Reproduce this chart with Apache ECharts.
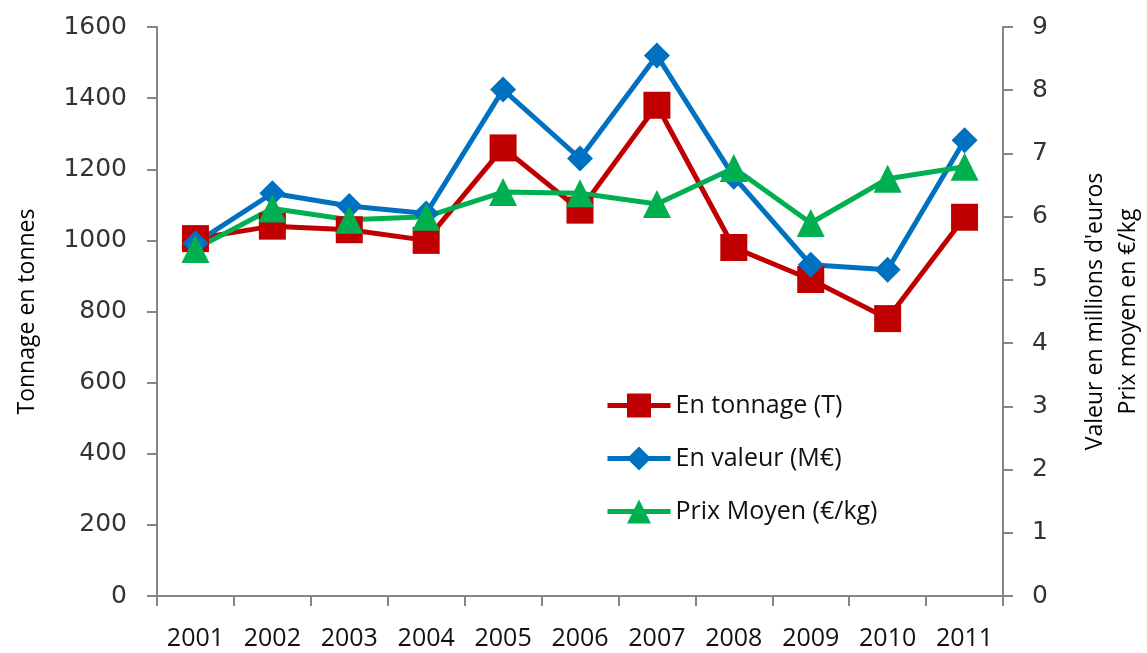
<!DOCTYPE html>
<html>
<head>
<meta charset="utf-8">
<script src="https://cdn.jsdelivr.net/npm/echarts@6/dist/echarts.min.js"></script>
<style>
  html, body { margin: 0; padding: 0; background: #fff; }
  #chart { width: 1147px; height: 653px; }
</style>
</head>
<body>
<div id="chart"></div>
<script>
const years = ['2001', '2002', '2003', '2004', '2005', '2006', '2007', '2008', '2009', '2010', '2011'];
const tonnage = [1005, 1040, 1030, 1000, 1260, 1085, 1380, 980, 890, 780, 1065];
const valeur = [5.58, 6.37, 6.17, 6.05, 8.01, 6.92, 8.55, 6.63, 5.24, 5.16, 7.21];
const prixMoyen = [5.49, 6.13, 5.95, 6.0, 6.39, 6.37, 6.2, 6.77, 5.9, 6.6, 6.79];

const axisGrey = '#868686';
const labelFont = { color: '#333', fontSize: 25, fontFamily: 'DejaVu Sans' };
const nameFont = { color: '#000', fontSize: 23, fontFamily: 'Open Sans' };

const chart = echarts.init(document.getElementById('chart'));

chart.setOption({
    backgroundColor: '#fff',
    animation: false,
    grid: { left: 157, right: 144, top: 27, bottom: 57, outerBoundsMode: 'none', containLabel: false },
    legend: {
        orient: 'vertical',
        left: 600,
        top: 388,
        itemWidth: 63,
        itemHeight: 30,
        itemGap: 28,
        lineStyle: { width: 5 },
        textStyle: { color: '#111', fontSize: 25, fontFamily: 'Open Sans' },
    },
    xAxis: {
        type: 'category',
        data: years,
        boundaryGap: true,
        axisLine: { lineStyle: { color: axisGrey, width: 2 } },
        axisTick: { show: true, length: 10, lineStyle: { color: axisGrey, width: 2 } },
        axisLabel: { color: '#111', fontSize: 25, fontFamily: 'Open Sans', margin: 30 },
    },
    yAxis: [
        {
            type: 'value',
            min: 0,
            max: 1600,
            interval: 200,
            name: 'Tonnage en tonnes',
            nameLocation: 'middle',
            nameGap: 118,
            nameTextStyle: nameFont,
            axisLine: { show: true, lineStyle: { color: axisGrey, width: 2 } },
            axisTick: { show: true, length: 10, lineStyle: { color: axisGrey, width: 2 } },
            axisLabel: { ...labelFont, margin: 30, formatter: (v) => String(v) },
            splitLine: { show: false },
        },
        {
            type: 'value',
            min: 0,
            max: 9,
            interval: 1,
            position: 'right',
            name: "Valeur en millions d'euros\nPrix moyen en €/kg",
            nameLocation: 'middle',
            nameGap: 76,
            nameTextStyle: { ...nameFont, lineHeight: 33 },
            axisLine: { show: true, lineStyle: { color: axisGrey, width: 2 } },
            axisTick: { show: true, length: 10, lineStyle: { color: axisGrey, width: 2 } },
            axisLabel: { ...labelFont, margin: 29 },
            splitLine: { show: false },
        },
    ],
    series: [
        {
            name: 'En tonnage (T)',
            type: 'line',
            yAxisIndex: 0,
            data: tonnage,
            symbol: 'rect',
            symbolSize: 27,
            lineStyle: { color: '#C00000', width: 5 },
            itemStyle: { color: '#C00000' },
        },
        {
            name: 'En valeur (M€)',
            type: 'line',
            yAxisIndex: 1,
            data: valeur,
            symbol: 'diamond',
            symbolSize: 26,
            lineStyle: { color: '#0070C0', width: 5 },
            itemStyle: { color: '#0070C0' },
        },
        {
            name: 'Prix Moyen (€/kg)',
            type: 'line',
            yAxisIndex: 1,
            data: prixMoyen,
            symbol: 'triangle',
            symbolSize: 28,
            lineStyle: { color: '#00B050', width: 5 },
            itemStyle: { color: '#00B050' },
        },
    ],
});
</script>
</body>
</html>
